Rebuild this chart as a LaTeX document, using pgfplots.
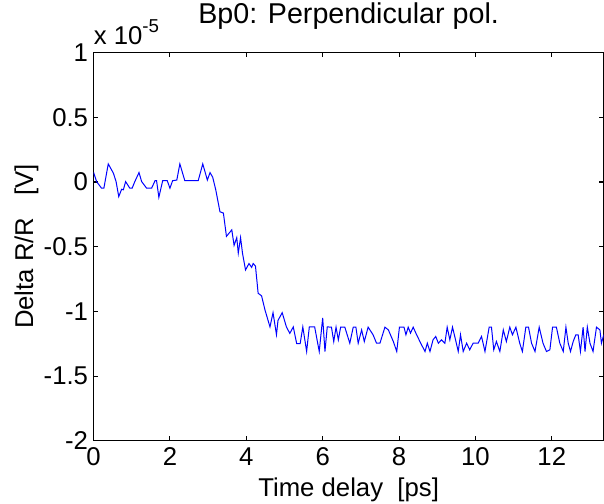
\documentclass[border=0pt]{standalone}
\usepackage{pgfplots}
\pgfplotsset{compat=1.18}
\usepackage{fontspec}
\setmainfont{Liberation Sans}
\definecolor{mblue}{RGB}{0,0,255}
\begin{document}
\fontsize{19.3pt}{23pt}\selectfont
\begin{tikzpicture}
\begin{axis}[
  name=ax,
  scale only axis,
  width=382.8pt, height=291.2pt,
  xmin=0, xmax=13.36, ymin=-2, ymax=1,
  xtick={0,2,4,6,8,10,12},
  xticklabels={0,2,4,6,8,10,12},
  ytick={-2,-1.5,-1,-0.5,0,0.5,1},
  yticklabels={-2,-1.5,-1,-0.5,0,0.5,1},
  tick align=inside,
  major tick length=3.2pt,
  tick style={black, line width=0.8pt},
  axis line style={black, line width=0.8pt},
  every tick label/.append style={font=\fontsize{19.3pt}{23pt}\selectfont},
  xticklabel style={yshift=1.5pt},
  yticklabel style={xshift=2.5pt},
  scaled ticks=false,
  title={Bp0: Perpendicular pol.},
  title style={at={(axis description cs:0.5,1.0533)}, anchor=base, font=\fontsize{21.5pt}{25pt}\selectfont},
  xlabel={Time delay\ \ [ps]},
  xlabel style={at={(axis description cs:0.5,-0.1442)}, anchor=base, font=\fontsize{19.3pt}{23pt}\selectfont},
  ylabel={Delta R/R\ \ \ [V]},
  ylabel style={at={(axis description cs:-0.1187,0.5)}, anchor=base, rotate=0, font=\fontsize{19.3pt}{23pt}\selectfont},
  clip=true,
]
\addplot[mblue, line width=0.75pt] coordinates {
(0.00,0.075) (0.08,0.003) (0.21,-0.048) (0.27,-0.048) (0.385,0.14) (0.52,0.068)
(0.59,0.003) (0.66,-0.113) (0.735,-0.056) (0.78,-0.06) (0.84,0.003) (0.95,-0.048)
(1.01,-0.048) (1.08,0.003) (1.19,0.073) (1.26,0.003) (1.39,-0.048) (1.52,-0.048)
(1.61,0.01) (1.65,0.01) (1.71,-0.118) (1.81,0.01) (1.93,0.01) (2.00,-0.048)
(2.07,0.01) (2.18,0.015) (2.26,0.14) (2.39,0.01) (2.74,0.01) (2.86,0.14)
(2.98,0.015) (3.05,0.073) (3.12,0.037) (3.20,-0.06) (3.31,-0.23) (3.40,-0.24)
(3.48,-0.42) (3.62,-0.37) (3.68,-0.49) (3.75,-0.43) (3.79,-0.55) (3.85,-0.43)
(3.90,-0.55) (3.98,-0.68) (4.07,-0.63) (4.14,-0.66) (4.18,-0.63) (4.24,-0.65)
(4.31,-0.86) (4.40,-0.88) (4.49,-0.99) (4.62,-1.12) (4.70,-1.01) (4.79,-1.18)
(4.83,-1.07) (4.94,-1.01) (5.05,-1.12) (5.14,-1.17) (5.23,-1.12) (5.32,-1.25)
(5.41,-1.25) (5.48,-1.12) (5.58,-1.31) (5.65,-1.12) (5.79,-1.12) (5.91,-1.31)
(6.00,-1.05) (6.06,-1.31) (6.12,-1.12) (6.23,-1.122) (6.29,-1.233) (6.35,-1.122)
(6.41,-1.220) (6.47,-1.122) (6.58,-1.122) (6.71,-1.246) (6.80,-1.122) (6.87,-1.122)
(6.93,-1.246) (7.02,-1.143) (7.09,-1.233) (7.19,-1.122) (7.32,-1.181) (7.41,-1.246)
(7.50,-1.246) (7.63,-1.122) (7.72,-1.143) (7.85,-1.233) (7.94,-1.310) (8.01,-1.122)
(8.13,-1.122) (8.18,-1.181) (8.24,-1.122) (8.30,-1.168) (8.37,-1.122) (8.46,-1.181)
(8.59,-1.259) (8.68,-1.310) (8.74,-1.246) (8.81,-1.310) (8.89,-1.220) (8.96,-1.194)
(9.03,-1.246) (9.11,-1.220) (9.20,-1.246) (9.26,-1.122) (9.33,-1.220) (9.40,-1.122)
(9.49,-1.233) (9.55,-1.310) (9.61,-1.181) (9.68,-1.310) (9.77,-1.246) (9.85,-1.297)
(9.94,-1.246) (10.07,-1.246) (10.16,-1.194) (10.25,-1.310) (10.36,-1.122) (10.42,-1.122)
(10.48,-1.297) (10.55,-1.233) (10.64,-1.310) (10.73,-1.143) (10.81,-1.233) (10.90,-1.122)
(10.97,-1.181) (11.06,-1.122) (11.16,-1.246) (11.23,-1.310) (11.32,-1.122) (11.39,-1.122)
(11.47,-1.246) (11.56,-1.310) (11.67,-1.122) (11.77,-1.246) (11.86,-1.310) (11.95,-1.297)
(12.02,-1.122) (12.12,-1.122) (12.21,-1.246) (12.30,-1.310) (12.37,-1.122) (12.43,-1.246)
(12.49,-1.310) (12.56,-1.233) (12.63,-1.181) (12.69,-1.181) (12.75,-1.310) (12.82,-1.122)
(12.87,-1.310) (12.93,-1.122) (13.00,-1.246) (13.08,-1.310) (13.17,-1.122) (13.26,-1.143)
(13.30,-1.246) (13.36,-1.181)
};
\end{axis}
\node[anchor=base west, inner sep=0pt, font=\fontsize{19.3pt}{23pt}\selectfont]
  at ([yshift=6.3pt]ax.north west) {x 10\raisebox{0.45em}{\fontsize{14pt}{16pt}\selectfont -5}};
\pgfresetboundingbox
\path ([xshift=-70.2pt,yshift=-47.25pt]ax.south west) rectangle ([xshift=0.2pt,yshift=39.5pt]ax.north east);
\end{tikzpicture}
\end{document}
